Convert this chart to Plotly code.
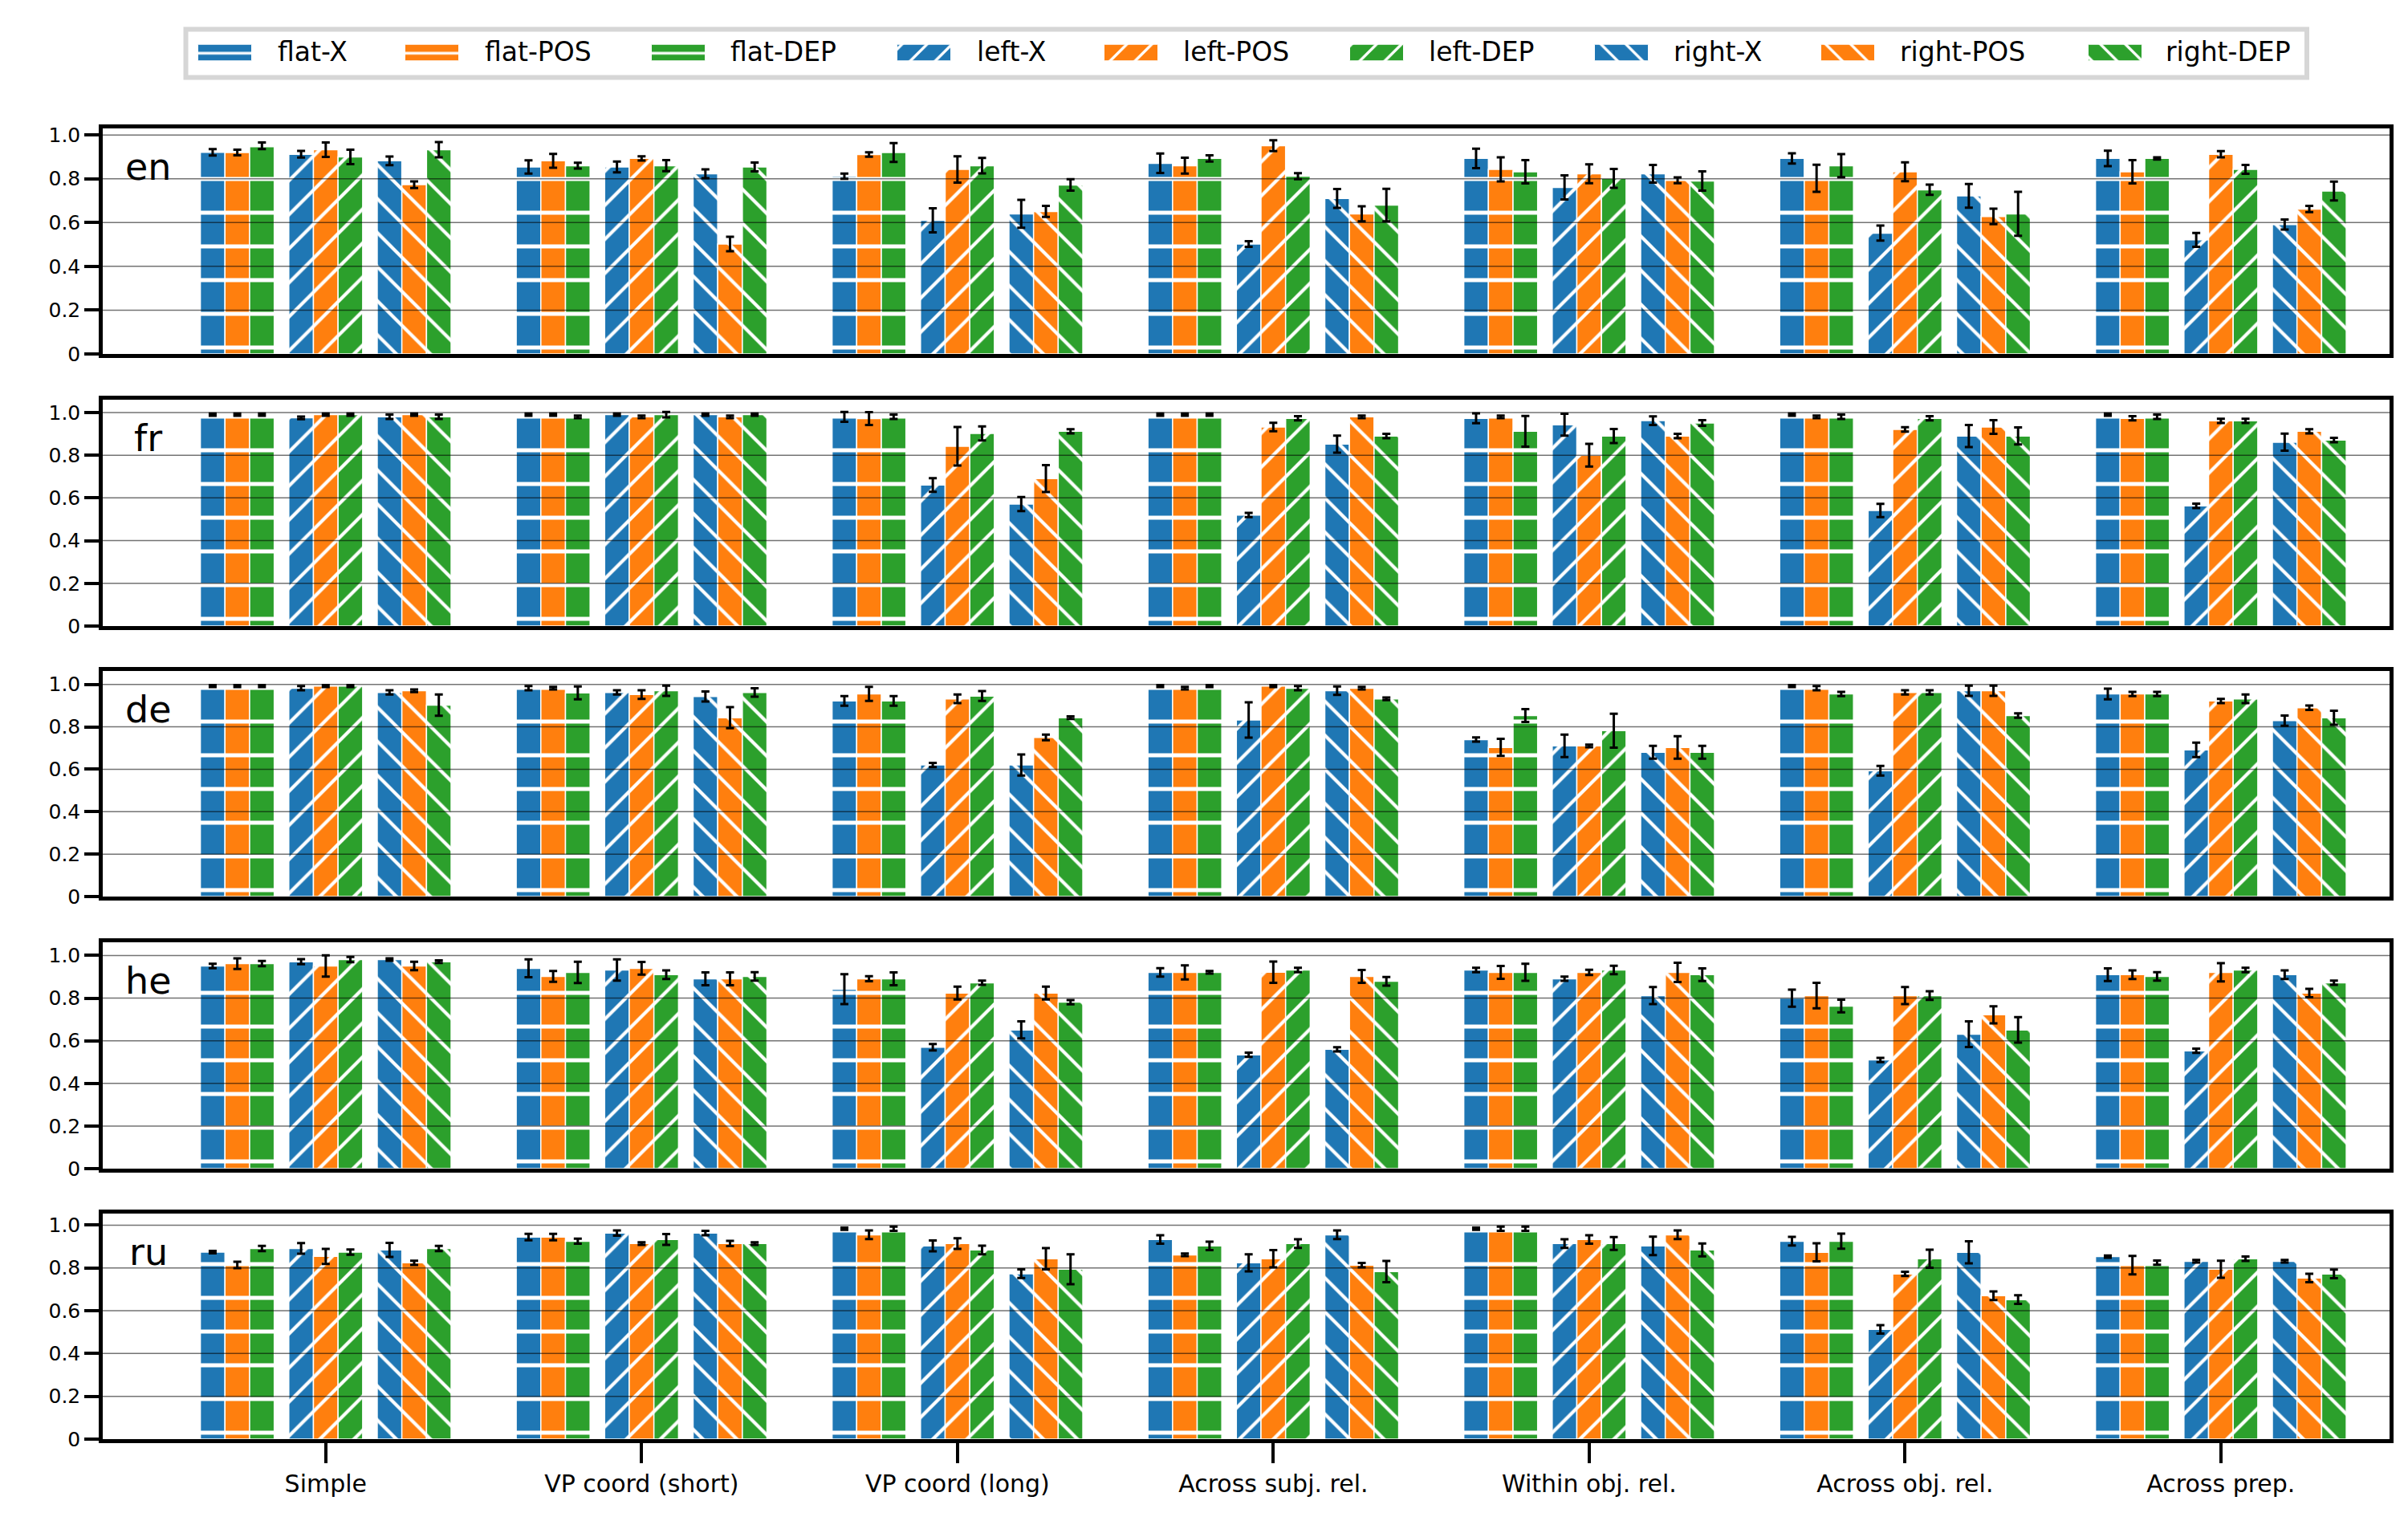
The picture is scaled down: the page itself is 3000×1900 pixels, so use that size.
import plotly.graph_objects as go
from plotly.subplots import make_subplots

# categories along x (one group of 9 bars each)
categories = ["Simple", "VP coord (short)", "VP coord (long)", "Across subj. rel.",
              "Within obj. rel.", "Across obj. rel.", "Across prep."]
languages = ["en", "fr", "de", "he", "ru"]
variants = ["flat-X", "flat-POS", "flat-DEP", "left-X", "left-POS", "left-DEP",
            "right-X", "right-POS", "right-DEP"]

# rows follow `variants`, columns follow `categories`
en_mean = [
    [0.921, 0.854, 0.812, 0.871, 0.893, 0.893, 0.893],
    [0.920, 0.882, 0.911, 0.860, 0.843, 0.802, 0.832],
    [0.951, 0.860, 0.920, 0.893, 0.832, 0.860, 0.893],
    [0.912, 0.854, 0.610, 0.502, 0.761, 0.552, 0.521],
    [0.933, 0.893, 0.843, 0.951, 0.823, 0.832, 0.912],
    [0.900, 0.860, 0.860, 0.812, 0.802, 0.750, 0.843],
    [0.882, 0.823, 0.640, 0.710, 0.823, 0.722, 0.591],
    [0.773, 0.502, 0.651, 0.640, 0.793, 0.628, 0.662],
    [0.933, 0.854, 0.772, 0.680, 0.790, 0.640, 0.744],
]
en_err = [
    [0.015, 0.030, 0.012, 0.044, 0.044, 0.023, 0.035],
    [0.013, 0.032, 0.010, 0.036, 0.055, 0.062, 0.053],
    [0.015, 0.013, 0.043, 0.014, 0.053, 0.053, 0.005],
    [0.015, 0.025, 0.055, 0.013, 0.055, 0.034, 0.032],
    [0.033, 0.010, 0.060, 0.025, 0.043, 0.043, 0.014],
    [0.033, 0.025, 0.035, 0.014, 0.043, 0.023, 0.020],
    [0.020, 0.020, 0.064, 0.043, 0.040, 0.054, 0.023],
    [0.015, 0.033, 0.025, 0.034, 0.013, 0.035, 0.014],
    [0.035, 0.020, 0.026, 0.074, 0.044, 0.100, 0.043],
]

fr_mean = [
    [0.990, 0.990, 0.980, 0.990, 0.973, 0.990, 0.990],
    [0.990, 0.990, 0.972, 0.990, 0.980, 0.980, 0.973],
    [0.990, 0.980, 0.980, 0.990, 0.912, 0.980, 0.980],
    [0.975, 0.990, 0.661, 0.520, 0.943, 0.541, 0.563],
    [0.990, 0.980, 0.842, 0.932, 0.800, 0.921, 0.961],
    [0.990, 0.990, 0.902, 0.973, 0.890, 0.973, 0.961],
    [0.980, 0.990, 0.571, 0.852, 0.962, 0.890, 0.861],
    [0.990, 0.980, 0.691, 0.980, 0.890, 0.932, 0.912],
    [0.980, 0.990, 0.912, 0.890, 0.951, 0.890, 0.871],
]
fr_err = [
    [0.005, 0.005, 0.023, 0.005, 0.023, 0.005, 0.005],
    [0.005, 0.005, 0.030, 0.005, 0.006, 0.006, 0.010],
    [0.005, 0.006, 0.010, 0.005, 0.072, 0.010, 0.010],
    [0.006, 0.005, 0.032, 0.010, 0.051, 0.031, 0.010],
    [0.005, 0.006, 0.090, 0.020, 0.053, 0.010, 0.010],
    [0.005, 0.013, 0.033, 0.010, 0.033, 0.010, 0.010],
    [0.010, 0.005, 0.033, 0.040, 0.020, 0.052, 0.040],
    [0.005, 0.006, 0.063, 0.006, 0.010, 0.032, 0.010],
    [0.010, 0.005, 0.010, 0.010, 0.013, 0.040, 0.010],
]

de_mean = [
    [0.992, 0.982, 0.922, 0.992, 0.740, 0.992, 0.955],
    [0.992, 0.982, 0.955, 0.982, 0.703, 0.982, 0.955],
    [0.992, 0.960, 0.922, 0.992, 0.853, 0.955, 0.955],
    [0.982, 0.962, 0.620, 0.832, 0.710, 0.593, 0.691],
    [0.992, 0.952, 0.932, 0.992, 0.710, 0.962, 0.922],
    [0.992, 0.970, 0.945, 0.982, 0.782, 0.962, 0.932],
    [0.962, 0.943, 0.620, 0.970, 0.680, 0.970, 0.829],
    [0.970, 0.843, 0.750, 0.982, 0.703, 0.970, 0.890],
    [0.902, 0.962, 0.843, 0.932, 0.680, 0.853, 0.843],
]
de_err = [
    [0.005, 0.010, 0.023, 0.005, 0.010, 0.005, 0.025],
    [0.005, 0.006, 0.033, 0.006, 0.040, 0.010, 0.010],
    [0.005, 0.030, 0.023, 0.005, 0.030, 0.010, 0.010],
    [0.010, 0.010, 0.010, 0.083, 0.053, 0.023, 0.034],
    [0.005, 0.020, 0.020, 0.005, 0.006, 0.010, 0.010],
    [0.005, 0.024, 0.023, 0.010, 0.080, 0.010, 0.020],
    [0.010, 0.024, 0.050, 0.020, 0.030, 0.024, 0.024],
    [0.006, 0.050, 0.013, 0.006, 0.053, 0.024, 0.010],
    [0.050, 0.020, 0.006, 0.006, 0.030, 0.010, 0.033],
]

he_mean = [
    [0.951, 0.940, 0.842, 0.921, 0.932, 0.800, 0.910],
    [0.962, 0.902, 0.891, 0.921, 0.921, 0.812, 0.910],
    [0.962, 0.921, 0.891, 0.921, 0.921, 0.763, 0.902],
    [0.971, 0.932, 0.570, 0.534, 0.891, 0.510, 0.553],
    [0.951, 0.940, 0.824, 0.922, 0.921, 0.812, 0.921],
    [0.981, 0.910, 0.872, 0.932, 0.932, 0.812, 0.932],
    [0.981, 0.891, 0.651, 0.560, 0.812, 0.631, 0.910],
    [0.951, 0.891, 0.824, 0.902, 0.921, 0.722, 0.824],
    [0.971, 0.902, 0.781, 0.879, 0.910, 0.651, 0.872],
]
he_err = [
    [0.010, 0.042, 0.070, 0.020, 0.010, 0.040, 0.030],
    [0.025, 0.025, 0.012, 0.033, 0.030, 0.060, 0.020],
    [0.012, 0.050, 0.030, 0.006, 0.040, 0.030, 0.020],
    [0.012, 0.050, 0.015, 0.010, 0.010, 0.010, 0.010],
    [0.050, 0.030, 0.030, 0.050, 0.012, 0.040, 0.043],
    [0.012, 0.020, 0.010, 0.010, 0.020, 0.020, 0.010],
    [0.006, 0.030, 0.040, 0.010, 0.040, 0.060, 0.020],
    [0.020, 0.030, 0.030, 0.030, 0.045, 0.040, 0.020],
    [0.006, 0.020, 0.010, 0.020, 0.030, 0.060, 0.010],
]

ru_mean = [
    [0.874, 0.944, 0.983, 0.933, 0.983, 0.925, 0.853],
    [0.814, 0.944, 0.955, 0.861, 0.983, 0.873, 0.813],
    [0.891, 0.925, 0.983, 0.903, 0.983, 0.925, 0.825],
    [0.891, 0.963, 0.903, 0.824, 0.914, 0.513, 0.831],
    [0.854, 0.914, 0.914, 0.843, 0.933, 0.772, 0.794],
    [0.874, 0.933, 0.884, 0.914, 0.914, 0.843, 0.843],
    [0.884, 0.963, 0.773, 0.955, 0.903, 0.873, 0.831],
    [0.824, 0.914, 0.843, 0.813, 0.955, 0.670, 0.753],
    [0.891, 0.914, 0.794, 0.783, 0.884, 0.652, 0.772],
]
ru_err = [
    [0.006, 0.015, 0.005, 0.020, 0.005, 0.020, 0.005],
    [0.015, 0.015, 0.020, 0.006, 0.010, 0.042, 0.043],
    [0.012, 0.012, 0.010, 0.020, 0.010, 0.035, 0.010],
    [0.025, 0.012, 0.025, 0.040, 0.020, 0.020, 0.006],
    [0.035, 0.006, 0.025, 0.040, 0.020, 0.010, 0.040],
    [0.012, 0.025, 0.020, 0.020, 0.030, 0.042, 0.010],
    [0.033, 0.010, 0.020, 0.020, 0.043, 0.052, 0.006],
    [0.010, 0.012, 0.050, 0.010, 0.020, 0.020, 0.020],
    [0.012, 0.006, 0.070, 0.050, 0.030, 0.020, 0.020],
]

means = [en_mean, fr_mean, de_mean, he_mean, ru_mean]
errs = [en_err, fr_err, de_err, he_err, ru_err]

# ---- styling / layout ----
y_top = [1.03, 1.06, 1.063, 1.062, 1.054]
panel_domains = [(0.76601, 0.92521), (0.57394, 0.73371), (0.38300, 0.54221),
                 (0.19093, 0.35071), (0.0, 0.15921)]

colors = ["#1f77b4", "#ff7f0e", "#2ca02c"]
hatches = ["-", "/", "\\"]
hatch_size = [42, 30, 30]
group_off = [-0.28, 0.0, 0.28]
bar_off = [-0.078, 0.0, 0.078]
bar_w = 0.078

# legend geometry (pixels across the plot area, which starts 120 px from the left)
leg_patch_x = [272, 530, 837, 1143, 1401, 1707, 2012, 2294, 2627]
leg_text_x = [336, 594, 900, 1207, 1464, 1770, 2075, 2357, 2688]

FONT = "DejaVu Sans"


def pattern(shape, size=42, solidity=0.12):
    return dict(shape=shape, fgcolor="white", fgopacity=1, fillmode="overlay",
                size=size, solidity=solidity)


fig = make_subplots(rows=5, cols=1)

for r, lang in enumerate(languages):
    for v, name in enumerate(variants):
        g, b = divmod(v, 3)
        xs = [i + group_off[g] + bar_off[b] for i in range(len(categories))]
        fig.add_trace(go.Bar(
            x=xs, y=means[r][v], width=bar_w, name=name, showlegend=False,
            marker=dict(color=colors[b], line=dict(color="white", width=1.5),
                        pattern=pattern(hatches[g], size=hatch_size[g],
                                        solidity=0.12 if g == 0 else 0.14)),
            error_y=dict(type="data", array=errs[r][v], color="black",
                         thickness=3, width=5),
        ), row=r + 1, col=1)

    ax = "" if r == 0 else str(r + 1)
    fig.add_annotation(text=lang, xref=f"x{ax} domain", yref=f"y{ax} domain",
                       x=0.02, y=0.83, xanchor="center", yanchor="middle",
                       showarrow=False, font=dict(family=FONT, size=46, color="black"))
    # gridlines drawn over the bars, as in the original
    for t in [0.2, 0.4, 0.6, 0.8, 1.0]:
        fig.add_shape(type="line", xref=f"x{ax} domain", yref=f"y{ax}",
                      x0=0, x1=1, y0=t, y1=t, layer="above",
                      line=dict(color="rgba(0,0,0,0.55)", width=1.5))

    fig.update_yaxes(domain=list(panel_domains[r]), range=[0, y_top[r]],
                     tickvals=[0, 0.2, 0.4, 0.6, 0.8, 1.0],
                     ticktext=["0", "0.2", "0.4", "0.6", "0.8", "1.0"],
                     showgrid=False, zeroline=False, showline=True, mirror=True,
                     linecolor="black", linewidth=4.5, ticks="outside", ticklen=18,
                     tickwidth=3.5, tickcolor="black",
                     tickfont=dict(family=FONT, size=25, color="black"),
                     row=r + 1, col=1)
    last = r == len(languages) - 1
    fig.update_xaxes(range=[-0.706, 6.534], tickvals=list(range(len(categories))),
                     ticktext=categories, showticklabels=last,
                     ticks="outside" if last else "", ticklen=25, tickwidth=3.5,
                     tickcolor="black", showgrid=False, zeroline=False,
                     showline=True, mirror=True, linecolor="black", linewidth=4.5,
                     tickfont=dict(family=FONT, size=30, color="black"),
                     row=r + 1, col=1)

# legend drawn on its own small axis so the hatched patches are full size
for v, name in enumerate(variants):
    g, b = divmod(v, 3)
    fig.add_trace(go.Bar(
        x=[leg_patch_x[v]], y=[1], width=67, xaxis="x6", yaxis="y6",
        showlegend=False, hoverinfo="skip",
        marker=dict(color=colors[b], line=dict(color="white", width=1),
                    pattern=pattern(hatches[g], size=22, solidity=0.15)),
    ))
    fig.add_annotation(text=name, xref="x6", yref="paper", x=leg_text_x[v],
                       y=0.97904, xanchor="left", yanchor="middle", showarrow=False,
                       font=dict(family=FONT, size=33, color="black"))

fig.add_shape(type="rect", xref="paper", yref="paper",
              x0=0.03633, x1=0.96385, y0=0.96119, y1=0.99518,
              line=dict(color="#d6d6d6", width=6), fillcolor="rgba(0,0,0,0)",
              layer="below")

fig.update_layout(
    width=3000, height=1900,
    margin=dict(l=120, r=31, t=20, b=115),
    barmode="overlay", showlegend=False,
    plot_bgcolor="white", paper_bgcolor="white",
    font=dict(family=FONT, color="black"),
    xaxis6=dict(domain=[0, 1], range=[120, 2969], visible=False, anchor="y6",
                fixedrange=True),
    yaxis6=dict(domain=[0.97297, 0.98453], range=[0, 1], visible=False, anchor="x6",
                fixedrange=True),
)

fig.write_html("out.html")
